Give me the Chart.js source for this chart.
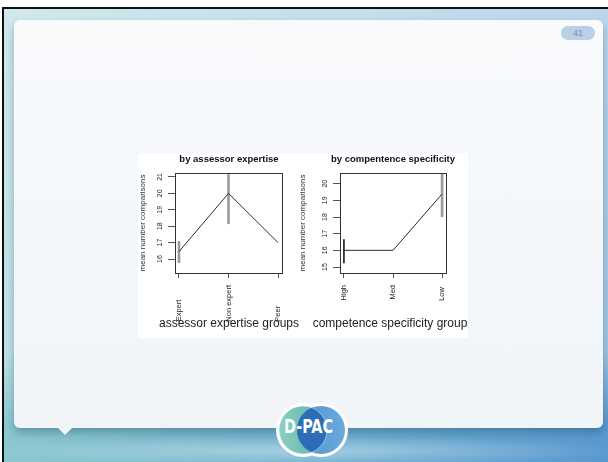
<!DOCTYPE html>
<html>
<head>
<meta charset="utf-8">
<script src="https://cdn.jsdelivr.net/npm/chart.js@4.4.1/dist/chart.umd.min.js"></script>
<style>
  html, body { margin: 0; padding: 0; background: #fff; }
  body { width: 608px; height: 462px; position: relative; overflow: hidden; font-family: "Liberation Sans", Arial, sans-serif; }
  #frame {
    position: absolute; left: 2px; top: 7px; width: 606px; height: 455px; box-sizing: border-box;
    border-top: 2px solid #111; border-left: 2px solid #111;
    background:
      radial-gradient(ellipse 320px 14px at 300px 442px, rgba(255,255,255,0.35), rgba(255,255,255,0)),
      linear-gradient(180deg, rgba(255,255,255,0.6) 0%, rgba(255,255,255,0.45) 75%, rgba(255,255,255,0) 92%),
      linear-gradient(90deg, #8cc8d0 0%, #72b3cf 50%, #5a98d0 100%);
  }
  #card {
    position: absolute; left: 14px; top: 20px; width: 589px; height: 408px; border-radius: 6px;
    background: linear-gradient(180deg, #f8fafc 0%, #f1f5f8 100%);
    box-shadow: 0 5px 8px rgba(20, 70, 90, 0.35);
  }
  #pointer {
    position: absolute; left: 58px; top: 428px; width: 0; height: 0;
    border-left: 7px solid transparent; border-right: 7px solid transparent; border-top: 7px solid #f1f5f8;
  }
  #pill {
    position: absolute; left: 561px; top: 26px; width: 34px; height: 14px; border-radius: 7px;
    background: #b9d0e6; color: #8ba4bd; font-size: 9px; font-weight: bold; line-height: 14px; text-align: center;
  }
  #figure { position: absolute; left: 138px; top: 153px; width: 330px; height: 185px; background: #fff; overflow: hidden; }
  #figure canvas { position: absolute; top: 0; }
  #logo { position: absolute; left: 274px; top: 400px; }
</style>
</head>
<body>
<div id="frame"></div>
<div id="card"></div>
<div id="pointer"></div>
<div id="pill">41</div>
<div id="figure">
  <canvas id="expertiseChart" width="182" height="185" style="left:0px"></canvas>
  <canvas id="specificityChart" width="190" height="185" style="left:160px"></canvas>
</div>
<svg id="logo" width="74" height="62" viewBox="0 0 74 62">
  <defs>
    <linearGradient id="lg1" x1="0" x2="1" y1="0" y2="0">
      <stop offset="0" stop-color="#8ccfc0"/><stop offset="1" stop-color="#55b0aa"/>
    </linearGradient>
    <linearGradient id="lg2" x1="0" x2="1" y1="0" y2="0">
      <stop offset="0" stop-color="#4f94d0"/><stop offset="1" stop-color="#6aaadc"/>
    </linearGradient>
    <clipPath id="leftDisc"><circle cx="29" cy="30" r="24"/></clipPath>
  </defs>
  <circle cx="29" cy="30" r="24" fill="#fff" stroke="#fff" stroke-width="6"/>
  <circle cx="47" cy="30" r="24" fill="#fff" stroke="#fff" stroke-width="6"/>
  <circle cx="29" cy="30" r="24" fill="url(#lg1)"/>
  <circle cx="47" cy="30" r="24" fill="url(#lg2)"/>
  <circle cx="47" cy="30" r="24" fill="#2c6db5" clip-path="url(#leftDisc)"/>
  <circle cx="29" cy="30" r="24" fill="none" stroke="rgba(255,255,255,0.45)" stroke-width="1"/>
  <text x="34.5" y="33" text-anchor="middle" fill="#fff" font-family="DejaVu Sans Condensed, DejaVu Sans" font-weight="bold" font-size="20" textLength="49" lengthAdjust="spacingAndGlyphs">D-PAC</text>
</svg>
<script>
// left panel: by assessor expertise
const expertiseGroups = ['Expert', 'Non expert', 'Peer'];
const expertiseMeans = [16.45, 20.0, 17.0];
const expertiseErrLow = [15.78, 18.15, null];
const expertiseErrHigh = [17.07, 21.85, null];
const expertiseYTicks = [16, 17, 18, 19, 20, 21];

// right panel: by compentence specificity
const specificityGroups = ['High', 'Med', 'Low'];
const specificityMeans = [16.0, 16.0, 19.38];
const specificityErrLow = [15.25, null, 18.02];
const specificityErrHigh = [16.65, null, 20.74];
const specificityYTicks = [15, 16, 17, 18, 19, 20];

const family = '"Liberation Sans", Arial, sans-serif';
const tickSize = 7.5;

// R style box around the plot region
const boxPlugin = {
  id: 'box',
  afterDraw(chart) {
    const a = chart.chartArea;
    const ctx = chart.ctx;
    ctx.save();
    ctx.strokeStyle = '#333';
    ctx.lineWidth = 1;
    ctx.strokeRect(Math.round(a.left) + 0.5, Math.round(a.top) + 0.5, Math.round(a.right - a.left), Math.round(a.bottom - a.top));
    ctx.restore();
  }
};

// rotated x labels sit on the bottom edge, so pad the short ones
function padLabels(labels) {
  const ctx = document.createElement('canvas').getContext('2d');
  ctx.font = 'normal ' + tickSize + 'px ' + family;
  const widest = Math.max(...labels.map(l => ctx.measureText(l).width));
  return labels.map(l => {
    let s = l;
    while (ctx.measureText(s + ' ').width <= widest + 1) s += ' ';
    return s;
  });
}

function errBars(lo, hi, pick) {
  const out = [];
  lo.forEach((v, i) => {
    if (v != null && pick(i)) out.push({ x: i + 1, y: [v, hi[i]] });
  });
  return out;
}

function makePanel(id, p) {
  const padded = padLabels(p.groups);
  return new Chart(document.getElementById(id), {
    type: 'line',
    data: {
      datasets: [
        {
          type: 'line',
          data: p.groups.map((g, i) => ({ x: i + 1, y: p.means[i] })),
          borderColor: '#2a2a2a',
          borderWidth: 1,
          pointRadius: 0,
          tension: 0,
          order: 0
        },
        {
          type: 'bar',
          data: errBars(p.lo, p.hi, i => !p.dark.includes(i)),
          backgroundColor: '#9c9c9c',
          barThickness: 2,
          grouped: false,
          clip: 0,
          order: 1
        },
        {
          type: 'bar',
          data: errBars(p.lo, p.hi, i => p.dark.includes(i)),
          backgroundColor: '#1e1e1e',
          barThickness: 1,
          grouped: false,
          clip: 0,
          order: 1
        }
      ]
    },
    options: {
      responsive: false,
      animation: false,
      events: [],
      plugins: {
        legend: { display: false },
        tooltip: { enabled: false },
        title: {
          display: true,
          text: p.title,
          color: '#111',
          font: { size: 9.5, weight: 'bold', family: family },
          padding: { top: 1, bottom: 7.6 }
        },
        // x axis title as a zero-height bottom subtitle, so it is not squeezed to the plot width
        subtitle: {
          display: true,
          position: 'bottom',
          text: p.xTitle,
          color: '#222',
          font: { size: 12, family: family },
          padding: { top: -21.2, bottom: 6.8 }
        }
      },
      scales: {
        x: {
          type: 'linear',
          min: 0.92,
          max: 3.08,
          offset: false,
          afterBuildTicks: s => { s.ticks = p.groups.map((g, i) => ({ value: i + 1 })); },
          afterFit: s => { s.height = 65; },
          ticks: {
            autoSkip: false,
            minRotation: 90,
            maxRotation: 90,
            padding: 7,
            color: '#222',
            font: { size: tickSize, family: family },
            callback: (v, i) => padded[i]
          },
          grid: { drawOnChartArea: false, offset: false, tickLength: 5, color: '#555' },
          border: { display: false }
        },
        y: {
          min: p.yMin,
          max: p.yMax,
          afterBuildTicks: s => { s.ticks = p.yTicks.map(v => ({ value: v })); },
          afterFit: s => { s.width = p.yWidth; },
          ticks: {
            minRotation: 90,
            maxRotation: 90,
            crossAlign: 'center',
            padding: p.tickPad,
            color: '#222',
            font: { size: 7, family: family }
          },
          grid: { drawOnChartArea: false, tickLength: 7, color: '#555' },
          border: { display: false },
          title: {
            display: true,
            text: 'mean number comparisons',
            color: '#333',
            font: { size: 8, family: family },
            padding: 0
          }
        },
        gap: {
          position: 'right',
          ticks: { display: false },
          grid: { display: false },
          border: { display: false },
          afterFit: s => { s.width = p.rightGap; }
        }
      }
    },
    plugins: [boxPlugin]
  });
}

makePanel('expertiseChart', {
  title: 'by assessor expertise',
  xTitle: 'assessor expertise groups',
  groups: expertiseGroups,
  means: expertiseMeans,
  lo: expertiseErrLow,
  hi: expertiseErrHigh,
  dark: [],
  yTicks: expertiseYTicks,
  yMin: 15.15,
  yMax: 21.24,
  yWidth: 37,
  tickPad: 4,
  rightGap: 38
});

makePanel('specificityChart', {
  title: 'by compentence specificity',
  xTitle: 'competence specificity groups',
  groups: specificityGroups,
  means: specificityMeans,
  lo: specificityErrLow,
  hi: specificityErrHigh,
  dark: [0],
  yTicks: specificityYTicks,
  yMin: 14.64,
  yMax: 20.64,
  yWidth: 42,
  tickPad: 3.6,
  rightGap: 42
});
</script>
</body>
</html>
